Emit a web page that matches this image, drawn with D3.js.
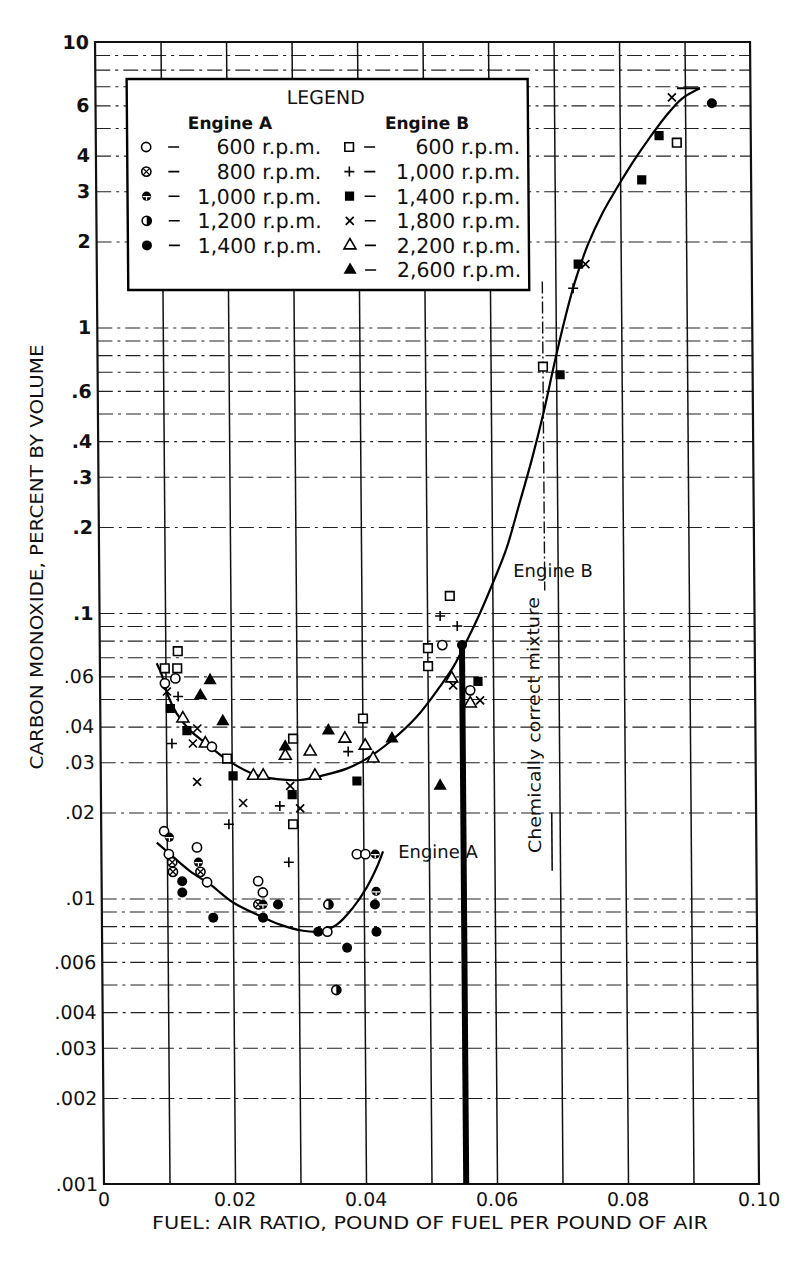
<!DOCTYPE html>
<html>
<head>
<meta charset="utf-8">
<script src="https://cdn.jsdelivr.net/npm/d3@7"></script>
<style>
  body { margin: 0; background: #fff; }
  text { font-family: "DejaVu Sans", sans-serif; fill: #111; }
</style>
</head>
<body>
<script>
// axis ticks
var xTicks = [0, 0.02, 0.04, 0.06, 0.08, 0.10];
var xTickLabels = ["0", "0.02", "0.04", "0.06", "0.08", "0.10"];
var yTicks = [10, 6, 4, 3, 2, 1, 0.6, 0.4, 0.3, 0.2, 0.1, 0.06, 0.04, 0.03, 0.02, 0.01, 0.006, 0.004, 0.003, 0.002, 0.001];
var yTickLabels = ["10", "6", "4", "3", "2", "1", ".6", ".4", ".3", ".2", ".1", ".06", ".04", ".03", ".02", ".01", ".006", ".004", ".003", ".002", ".001"];

// legend texts
var legendA = ["600 r.p.m.", "800 r.p.m.", "1,000 r.p.m.", "1,200 r.p.m.", "1,400 r.p.m."];
var legendB = ["600 r.p.m.", "1,000 r.p.m.", "1,400 r.p.m.", "1,800 r.p.m.", "2,200 r.p.m.", "2,600 r.p.m."];

// engine A points  [fuel:air, CO %]
var engA600 = [[0.0096, 0.0172], [0.0103, 0.0143], [0.0146, 0.0151], [0.0161, 0.0114], [0.0239, 0.0115],
  [0.0246, 0.0105], [0.0344, 0.00765], [0.0390, 0.0143], [0.0403, 0.0143], [0.0099, 0.0567],
  [0.0115, 0.0590], [0.0523, 0.0772], [0.0170, 0.0340], [0.0565, 0.0536]];
var engA800 = [[0.0108, 0.0134], [0.0109, 0.0124], [0.0239, 0.00953], [0.0151, 0.0124]];
var engA1000 = [[0.0104, 0.0164], [0.0148, 0.0134], [0.0246, 0.00953], [0.0418, 0.0143], [0.0419, 0.0106]];
var engA1200 = [[0.0346, 0.00953], [0.0357, 0.00478]];
var engA1400 = [[0.0123, 0.0115], [0.0123, 0.0105], [0.0170, 0.00857], [0.0246, 0.00857], [0.0269, 0.00953],
  [0.0330, 0.00765], [0.0374, 0.00672], [0.0417, 0.00953], [0.0419, 0.00765], [0.0941, 6.10], [0.0553, 0.0772]];

// engine B points
var engB600 = [[0.0119, 0.0735], [0.0099, 0.0640], [0.0118, 0.0640], [0.0193, 0.0309], [0.0293, 0.0182],
  [0.0294, 0.0363], [0.0401, 0.0427], [0.0501, 0.0651], [0.0501, 0.0753], [0.0535, 0.1148],
  [0.0680, 0.729], [0.0887, 4.44]];
var engB1000 = [[0.0119, 0.0510], [0.0109, 0.0349], [0.0195, 0.0182], [0.0273, 0.0211], [0.0286, 0.0134],
  [0.0378, 0.0327], [0.0520, 0.0976], [0.0546, 0.0900], [0.0727, 1.372]];
var engB1400 = [[0.0107, 0.0463], [0.0132, 0.0387], [0.0202, 0.0269], [0.0292, 0.0231], [0.0391, 0.0258],
  [0.0577, 0.0576], [0.0706, 0.683], [0.0735, 1.667], [0.0833, 3.29], [0.0860, 4.70]];
var engB1800 = [[0.0102, 0.0531], [0.0148, 0.0394], [0.0141, 0.0349], [0.0147, 0.0256], [0.0217, 0.0216],
  [0.0289, 0.0248], [0.0304, 0.0207], [0.0539, 0.0558], [0.0580, 0.0494], [0.0746, 1.667], [0.0880, 6.40]];
var engB2200 = [[0.0126, 0.0427], [0.0160, 0.0349], [0.0233, 0.0269], [0.0248, 0.0269], [0.0282, 0.0316],
  [0.0320, 0.0327], [0.0327, 0.0269], [0.0373, 0.0363], [0.0404, 0.0343], [0.0416, 0.0309],
  [0.0537, 0.0590], [0.0565, 0.0482]];
var engB2600 = [[0.0168, 0.0581], [0.0153, 0.0514], [0.0187, 0.0417], [0.0282, 0.0340], [0.0348, 0.0387],
  [0.0445, 0.0363], [0.0518, 0.0248]];

// faired curves
var curveA = [[0.00847, 0.0157], [0.0105, 0.01429], [0.0135, 0.01248], [0.01655, 0.0112], [0.02005, 0.00968],
  [0.02365, 0.00879], [0.0272, 0.0081], [0.0307, 0.00771], [0.0333, 0.00767], [0.03585, 0.0081],
  [0.03835, 0.00929], [0.04047, 0.01094], [0.04203, 0.01286], [0.0430, 0.01463]];
var curveB = [[0.00867, 0.0667], [0.00943, 0.0607], [0.01041, 0.051], [0.01165, 0.0445], [0.01368, 0.0388],
  [0.01621, 0.0348], [0.01976, 0.0301], [0.02382, 0.027], [0.02687, 0.0262], [0.03041, 0.026],
  [0.03394, 0.027], [0.03756, 0.0285], [0.04063, 0.0309], [0.0442, 0.0354], [0.0483, 0.0433],
  [0.0519, 0.0553], [0.0540, 0.0650], [0.0561, 0.0804], [0.0581, 0.1], [0.0601, 0.1276],
  [0.0622, 0.168], [0.0642, 0.240], [0.0662, 0.346], [0.0680, 0.50], [0.0697, 0.74],
  [0.0713, 1.05], [0.0730, 1.45], [0.0750, 1.95], [0.0772, 2.5], [0.0795, 3.08],
  [0.0820, 3.80], [0.0846, 4.63], [0.0872, 5.55], [0.0896, 6.35], [0.0923, 6.89]];
var curveBHook = [[0.0923, 6.89], [0.0888, 6.89]];

// chemically correct mixture marker and heavy rule
var chemUpper = [[0.0680, 1.45], [0.0680, 0.12]];
var chemLower = [[0.0688, 0.02], [0.0688, 0.0125]];
var heavyRule = [[0.0553, 0.078], [0.0553, 0.001]];

var svg = d3.select("body").append("svg")
  .attr("width", 800)
  .attr("height", 1261);

var x = d3.scaleLinear().domain([0, 0.1]).range([94.7, 749.7]);
var y = d3.scaleLog().domain([0.001, 10]).range([1184, 42]);

// the scanned original is slightly sheared
var g = svg.append("g").attr("transform", "skewX(0.45)");

// horizontal grid (1..9 of each decade)
var gridY = [];
[0.001, 0.01, 0.1, 1].forEach(function(p) {
  for (var k = 1; k <= 9; k++) gridY.push(k * p);
});
gridY = gridY.filter(function(v) { return v > 0.0011; });

g.append("g")
  .attr("transform", "translate(" + x(0) + ",0)")
  .call(d3.axisLeft(y).tickValues(gridY).tickFormat("").tickSize(-(x(0.1) - x(0))))
  .call(function(a) { a.select(".domain").remove(); })
  .selectAll("line")
  .attr("stroke", "#222")
  .attr("stroke-width", 1.1)
  .attr("stroke-dasharray", "15,5,3,5");

// vertical grid
g.append("g")
  .attr("transform", "translate(0," + y(0.001) + ")")
  .call(d3.axisBottom(x).tickValues(d3.range(1, 10).map(function(i) { return i / 100; }))
    .tickFormat("").tickSize(-(y(0.001) - y(10))))
  .call(function(a) { a.select(".domain").remove(); })
  .selectAll("line")
  .attr("stroke", "#111")
  .attr("stroke-width", 1.5);

// frame
g.append("rect")
  .attr("x", x(0)).attr("y", y(10))
  .attr("width", x(0.1) - x(0)).attr("height", y(0.001) - y(10))
  .attr("fill", "none").attr("stroke", "#111").attr("stroke-width", 2.2);

// tick labels
g.append("g").selectAll("text")
  .data(yTicks)
  .join("text")
  .attr("x", x(0) - 6)
  .attr("y", function(d) { return y(d); })
  .attr("dy", "0.36em")
  .attr("text-anchor", "end")
  .attr("font-size", 19)
  .attr("font-weight", function(d) { return d >= 0.1 ? "bold" : "normal"; })
  .text(function(d, i) { return yTickLabels[i]; });

g.append("g").selectAll("text")
  .data(xTicks)
  .join("text")
  .attr("x", function(d) { return x(d); })
  .attr("y", y(0.001) + 22)
  .attr("text-anchor", "middle")
  .attr("font-size", 19)
  .text(function(d, i) { return xTickLabels[i]; });

var line = d3.line()
  .x(function(d) { return x(d[0]); })
  .y(function(d) { return y(d[1]); });

// chemically correct mixture
g.append("path").attr("d", line(chemUpper))
  .attr("stroke", "#111").attr("stroke-width", 1.4).attr("fill", "none")
  .attr("stroke-dasharray", "12,3,2,3");
g.append("path").attr("d", line(chemLower))
  .attr("stroke", "#111").attr("stroke-width", 1.6).attr("fill", "none");
g.append("text")
  .attr("transform", "translate(" + x(0.0662) + "," + y(0.0405) + ") rotate(-90)")
  .attr("text-anchor", "middle")
  .attr("dominant-baseline", "central")
  .attr("font-size", 17)
  .attr("textLength", 256)
  .attr("lengthAdjust", "spacingAndGlyphs")
  .text("Chemically correct mixture");

// heavy rule
g.append("path").attr("d", line(heavyRule))
  .attr("stroke", "#000").attr("stroke-width", 6).attr("fill", "none");

// curves
var smooth = d3.line()
  .x(function(d) { return x(d[0]); })
  .y(function(d) { return y(d[1]); })
  .curve(d3.curveCatmullRom.alpha(0.5));

[curveA, curveB].forEach(function(c) {
  g.append("path").attr("d", smooth(c))
    .attr("fill", "none").attr("stroke", "#000").attr("stroke-width", 2.2);
});
g.append("path").attr("d", line(curveBHook))
  .attr("fill", "none").attr("stroke", "#000").attr("stroke-width", 2);

g.append("text").attr("x", x(0.0632)).attr("y", y(0.1337))
  .attr("font-size", 18).text("Engine B");
g.append("text").attr("x", x(0.0453)).attr("y", y(0.01387))
  .attr("font-size", 18).text("Engine A");

// symbols
function symbol(s, type) {
  var r = 4.6, sw = 1.6;
  if (type === "circle") {
    s.append("circle").attr("r", r).attr("fill", "#fff").attr("stroke", "#000").attr("stroke-width", sw);
  } else if (type === "circleX") {
    s.append("circle").attr("r", r).attr("fill", "#fff").attr("stroke", "#000").attr("stroke-width", sw);
    s.append("path").attr("d", "M-3,-3L3,3M-3,3L3,-3").attr("stroke", "#000").attr("stroke-width", 1.3);
  } else if (type === "circleBar") {
    s.append("circle").attr("r", r).attr("fill", "#000");
    s.append("path").attr("d", "M-4,0.5L4,0.5M0,0.5L0,4").attr("stroke", "#fff").attr("stroke-width", 1.2);
  } else if (type === "circleHalf") {
    s.append("circle").attr("r", r).attr("fill", "#fff").attr("stroke", "#000").attr("stroke-width", sw);
    s.append("path").attr("d", "M0,-" + r + "A" + r + "," + r + " 0 0,1 0," + r + "Z").attr("fill", "#000");
  } else if (type === "dot") {
    s.append("circle").attr("r", r + 0.4).attr("fill", "#000");
  } else if (type === "square") {
    s.append("rect").attr("x", -4.3).attr("y", -4.3).attr("width", 8.6).attr("height", 8.6)
      .attr("fill", "#fff").attr("stroke", "#000").attr("stroke-width", sw);
  } else if (type === "plus") {
    s.append("path").attr("d", "M-5,0L5,0M0,-5L0,5").attr("stroke", "#000").attr("stroke-width", 1.6);
  } else if (type === "block") {
    s.append("rect").attr("x", -4.6).attr("y", -4.6).attr("width", 9.2).attr("height", 9.2).attr("fill", "#000");
  } else if (type === "cross") {
    s.append("path").attr("d", "M-4,-4L4,4M-4,4L4,-4").attr("stroke", "#000").attr("stroke-width", 1.7);
  } else if (type === "tri") {
    s.append("path").attr("d", d3.symbol(d3.symbolTriangle, 62)())
      .attr("fill", "#fff").attr("stroke", "#000").attr("stroke-width", sw);
  } else if (type === "triFill") {
    s.append("path").attr("d", d3.symbol(d3.symbolTriangle, 75)()).attr("fill", "#000");
  }
}

var seriesA = [[engA600, "circle"], [engA800, "circleX"], [engA1000, "circleBar"], [engA1200, "circleHalf"], [engA1400, "dot"]];
var seriesB = [[engB600, "square"], [engB1000, "plus"], [engB1400, "block"], [engB1800, "cross"], [engB2200, "tri"], [engB2600, "triFill"]];

seriesB.concat(seriesA).forEach(function(sr) {
  g.append("g").selectAll("g")
    .data(sr[0])
    .join("g")
    .attr("transform", function(d) { return "translate(" + x(d[0]) + "," + y(d[1]) + ")"; })
    .each(function() { symbol(d3.select(this), sr[1]); });
});

// legend
var lg = g.append("g");
lg.append("rect")
  .attr("x", 126).attr("y", 79).attr("width", 401).attr("height", 211)
  .attr("fill", "#fff").attr("stroke", "#000").attr("stroke-width", 2.4);
lg.append("text").attr("x", 325).attr("y", 104).attr("text-anchor", "middle")
  .attr("font-size", 19).text("LEGEND");
lg.append("text").attr("x", 229).attr("y", 129).attr("text-anchor", "middle")
  .attr("font-size", 17).attr("font-weight", "bold").text("Engine A");
lg.append("text").attr("x", 426).attr("y", 129).attr("text-anchor", "middle")
  .attr("font-size", 17).attr("font-weight", "bold").text("Engine B");

function legendColumn(labels, series, symX, dashX, textX) {
  labels.forEach(function(t, i) {
    var cy = 147 + i * 24.6;
    symbol(lg.append("g").attr("transform", "translate(" + symX + "," + cy + ")"), series[i][1]);
    lg.append("line").attr("x1", dashX).attr("x2", dashX + 11).attr("y1", cy).attr("y2", cy)
      .attr("stroke", "#000").attr("stroke-width", 1.6);
    lg.append("text").attr("x", textX).attr("y", cy).attr("dy", "0.36em")
      .attr("text-anchor", "end").attr("font-size", 20.5).text(t);
  });
}
legendColumn(legendA, seriesA, 145, 167, 320);
legendColumn(legendB, seriesB, 348, 363, 519);

// axis titles
svg.append("text")
  .attr("x", 430).attr("y", 1229)
  .attr("text-anchor", "middle")
  .attr("font-size", 17)
  .attr("textLength", 556)
  .attr("lengthAdjust", "spacingAndGlyphs")
  .text("FUEL: AIR RATIO, POUND OF FUEL PER POUND OF AIR");

svg.append("text")
  .attr("transform", "translate(43,557) rotate(-90)")
  .attr("text-anchor", "middle")
  .attr("font-size", 17)
  .attr("textLength", 425)
  .attr("lengthAdjust", "spacingAndGlyphs")
  .text("CARBON MONOXIDE, PERCENT BY VOLUME");
</script>
</body>
</html>
